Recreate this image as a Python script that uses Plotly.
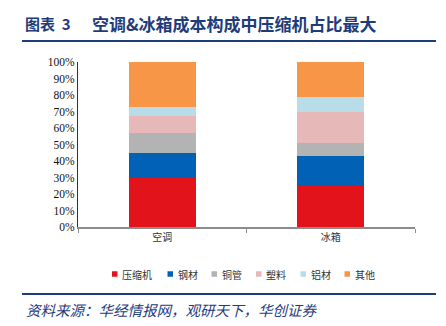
import plotly.graph_objects as go

categories = ["空调", "冰箱"]
series_names = ["压缩机", "钢材", "铜管", "塑料", "铝材", "其他"]
compressor = [30, 25]
steel = [15, 18]
copper = [12, 8]
plastic = [10, 19]
aluminum = [6, 9]
other = [27, 21]
colors = ["#E3131B", "#0061B5", "#B3B3B3", "#E6B8B7", "#B8DDE8", "#F79646"]
tick_vals = [0, 10, 20, 30, 40, 50, 60, 70, 80, 90, 100]
tick_text = [f"{v}%" for v in tick_vals]

values = [compressor, steel, copper, plastic, aluminum, other]

# plot area geometry (pixels) used to place decorations in paper coordinates
L, R, T, B = 78, 415, 62, 227
PW, PH = R - L, B - T


def px(x):
    return (x - L) / PW


def py(y):
    return (B - y) / PH


fig = go.Figure()
for name, vals, col in zip(series_names, values, colors):
    fig.add_trace(go.Bar(x=categories, y=vals, name=name, marker_color=col,
                         marker_line_width=0, width=0.4, showlegend=False))

cjk = "Noto Sans CJK SC"
navy = "#1F3C7A"
fig.update_layout(
    barmode="stack",
    width=446, height=326,
    margin=dict(l=L, r=446 - R, t=T, b=326 - B),
    paper_bgcolor="white", plot_bgcolor="white",
    xaxis=dict(showline=True, linecolor="#8C8C8C", linewidth=2,
               ticks="outside", tickson="boundaries", ticklen=4, tickcolor="#8C8C8C",
               tickwidth=1,
               tickfont=dict(family=cjk, size=10, color="#333333"), showgrid=False),
    yaxis=dict(range=[0, 100], tickvals=tick_vals, ticktext=tick_text,
               showline=True, linecolor="#333333", linewidth=1, ticks="", showgrid=False,
               zeroline=False,
               tickfont=dict(family="Liberation Serif", size=11.5, color="#111111")),
    font=dict(family=cjk),
)

# title
fig.add_annotation(xref="paper", yref="paper", x=px(23), y=py(23),
                   xanchor="left", yanchor="middle", showarrow=False,
                   text="<b>图表  3</b>",
                   font=dict(family=cjk, size=15, color=navy))
fig.add_annotation(xref="paper", yref="paper", x=px(90), y=py(23),
                   xanchor="left", yanchor="middle", showarrow=False,
                   text="<b>空调&冰箱成本构成中压缩机占比最大</b>",
                   font=dict(family=cjk, size=17, color=navy))
# source
fig.add_annotation(xref="paper", yref="paper", x=px(24), y=py(309),
                   xanchor="left", yanchor="middle", showarrow=False,
                   text="<i>资料来源：华经情报网，观研天下，华创证券</i>",
                   font=dict(family=cjk, size=14.5, color=navy))
for yy in (41, 294):
    fig.add_shape(type="line", xref="paper", yref="paper",
                  x0=px(22), x1=px(436), y0=py(yy), y1=py(yy),
                  line=dict(color=navy, width=2))

# custom legend (swatch + label per series)
legend_x = [112, 167.5, 211.5, 256, 300.5, 344.5]
legend_y = 274
for name, col, lx in zip(series_names, colors, legend_x):
    fig.add_shape(type="rect", xref="paper", yref="paper",
                  x0=px(lx), x1=px(lx + 5.5), y0=py(legend_y + 2.75), y1=py(legend_y - 2.75),
                  fillcolor=col, line=dict(width=0))
    fig.add_annotation(xref="paper", yref="paper", x=px(lx + 8), y=py(legend_y),
                       xanchor="left", yanchor="middle", showarrow=False,
                       text=name, font=dict(family=cjk, size=10, color="#333333"))

fig.write_html("out.html")
